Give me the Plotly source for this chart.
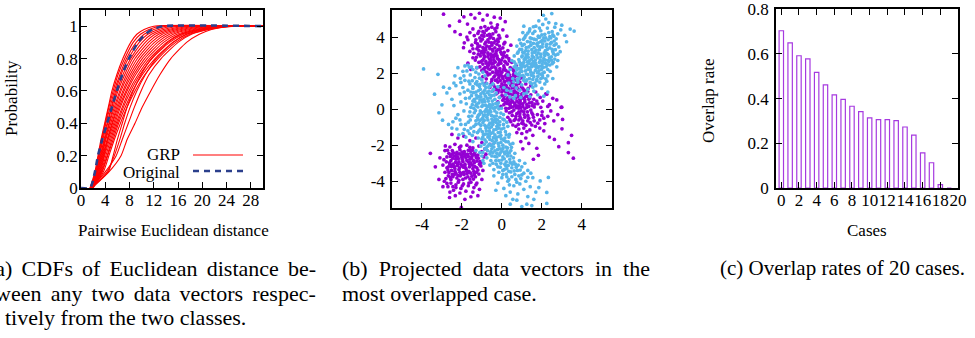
import plotly.graph_objects as go

W, H = 975, 338
SERIF = "Liberation Serif"

# ---------------- (a) CDFs of pairwise Euclidean distance ----------------
cdf_levels = [0.0, 0.1, 0.2, 0.3, 0.4, 0.5, 0.6, 0.7, 0.8, 0.9, 0.95, 0.98, 1.0]
# distance reached by each GRP projection at the probability levels above
grp_quantiles = [
    [1.5, 2.3, 2.8, 3.3, 3.9, 4.5, 5.1, 5.9, 6.9, 8.2, 9.2, 10.4, 12.0],
    [1.5, 2.4, 2.9, 3.4, 4.0, 4.6, 5.3, 6.1, 7.2, 8.6, 9.8, 11.2, 13.0],
    [1.6, 2.5, 3.0, 3.5, 4.1, 4.8, 5.5, 6.4, 7.5, 9.1, 10.4, 12.0, 14.0],
    [1.6, 2.5, 3.1, 3.6, 4.3, 5.0, 5.7, 6.6, 7.8, 9.6, 11.0, 12.8, 15.0],
    [1.5, 2.6, 3.2, 3.8, 4.4, 5.1, 5.9, 6.9, 8.2, 10.1, 11.6, 13.6, 16.0],
    [1.7, 2.7, 3.3, 3.9, 4.6, 5.3, 6.1, 7.2, 8.5, 10.6, 12.2, 14.4, 17.0],
    [1.6, 2.7, 3.4, 4.0, 4.7, 5.5, 6.4, 7.5, 8.9, 11.1, 12.8, 15.1, 18.0],
    [1.7, 2.8, 3.5, 4.1, 4.9, 5.7, 6.6, 7.8, 9.3, 11.6, 13.4, 15.8, 19.0],
    [1.8, 2.9, 3.6, 4.3, 5.1, 5.9, 6.9, 8.1, 9.7, 12.1, 14.0, 16.5, 20.0],
    [1.8, 3.0, 3.7, 4.4, 5.2, 6.1, 7.1, 8.4, 10.1, 12.6, 14.6, 17.2, 21.0],
    [1.7, 3.1, 3.8, 4.5, 5.4, 6.3, 7.4, 8.7, 10.5, 13.1, 15.2, 17.9, 22.0],
    [1.8, 3.2, 3.9, 4.7, 5.6, 6.5, 7.6, 9.0, 10.9, 13.6, 15.8, 18.6, 22.5],
    [1.9, 3.3, 4.1, 4.9, 5.8, 6.8, 7.9, 9.4, 11.3, 14.1, 16.3, 19.2, 23.0],
    [1.9, 3.4, 4.3, 5.1, 6.0, 7.0, 8.2, 9.7, 11.7, 14.6, 16.9, 19.8, 23.5],
    [2.0, 3.5, 4.4, 5.3, 6.2, 7.3, 8.5, 10.1, 12.2, 15.1, 17.4, 20.3, 24.0],
    [1.9, 3.7, 4.6, 5.5, 6.5, 7.6, 8.9, 10.5, 12.7, 15.6, 17.9, 20.8, 24.5],
    [1.6, 4.5, 5.3, 6.0, 6.8, 7.6, 8.6, 9.9, 11.6, 14.3, 16.5, 19.4, 23.0],
    [1.8, 4.3, 5.5, 6.4, 7.2, 8.1, 9.2, 10.6, 12.4, 15.2, 17.4, 20.2, 24.0],
    [1.7, 4.0, 5.8, 6.8, 7.8, 8.8, 9.9, 11.2, 13.2, 16.0, 18.2, 21.0, 25.0],
    [1.8, 4.6, 6.6, 7.6, 8.9, 10.1, 11.5, 13.0, 14.8, 17.4, 19.5, 21.5, 25.5],
]
original_quantiles = [1.5, 2.3, 2.8, 3.5, 4.3, 5.1, 5.9, 6.8, 7.9, 9.4, 10.6, 11.8, 13.5]
distance_max = 30
a_xticks = [0, 4, 8, 12, 16, 20, 24, 28]
a_yticks = [0, 0.2, 0.4, 0.6, 0.8, 1]

# ---------------- (b) projected data vectors ----------------
class1_upper = [
    (-2.92, 5.27), (-2.62, 4.62), (-2.12, 4.88), (-1.55, 5.25), (-1.35, 5.05), (-1.12, 5.32), (-0.95, 4.95),
    (-0.73, 5.22), (-0.55, 4.78), (-0.38, 5.1), (-0.08, 5.05), (0.17, 4.85), (-1.72, 4.72), (-0.22, 4.68), (-1.9, 5.12),
    (-2.08, 4.14), (-1.75, 4.0), (-2.35, 4.3), (-1.45, 4.45), (-1.2, 4.2), (-1.05, 4.52), (-0.9, 4.05), (-0.78, 4.38),
    (-0.62, 4.15), (-0.5, 4.55), (-0.42, 3.92), (-0.3, 4.3), (-0.15, 4.1), (0.05, 4.4), (0.25, 4.05), (-1.3, 3.85),
    (-1.1, 3.95), (-0.95, 4.3), (-0.7, 3.85), (-0.55, 4.02), (-0.35, 4.45), (-1.6, 4.25), (-0.85, 4.58), (-0.2, 3.88),
    (-1.0, 4.1),
    (-1.92, 3.41), (-1.88, 3.68), (-1.6, 3.2), (-1.5, 3.55), (-1.4, 3.1), (-1.32, 3.7), (-1.25, 3.35), (-1.18, 3.05),
    (-1.1, 3.5), (-1.05, 3.78), (-1.0, 3.2), (-0.95, 3.42), (-0.9, 3.0), (-0.85, 3.62), (-0.8, 3.28), (-0.75, 3.5),
    (-0.7, 3.12), (-0.65, 3.72), (-0.6, 3.35), (-0.55, 3.05), (-0.5, 3.55), (-0.45, 3.22), (-0.4, 3.68), (-0.35, 3.4),
    (-0.3, 3.1), (-0.25, 3.6), (-0.2, 3.3), (-0.12, 3.5), (-0.05, 3.15), (0.05, 3.4), (0.15, 3.7), (0.3, 3.25),
    (0.45, 3.55), (-1.7, 3.85), (-1.15, 3.25), (-0.88, 3.15), (-0.62, 3.45), (-0.42, 3.0), (-0.18, 3.75), (0.0, 3.05),
    (-1.7, 2.55), (-1.55, 2.2), (-1.45, 2.85), (-1.33, 2.72), (-1.25, 2.3), (-1.15, 2.6), (-1.08, 2.95), (-1.0, 2.15),
    (-0.95, 2.5), (-0.9, 2.8), (-0.85, 2.3), (-0.8, 2.65), (-0.75, 2.05), (-0.7, 2.9), (-0.66, 2.45), (-0.6, 2.2),
    (-0.55, 2.75), (-0.5, 2.5), (-0.46, 2.05), (-0.42, 2.88), (-0.38, 2.35), (-0.33, 2.62), (-0.28, 2.15), (-0.24, 2.95),
    (-0.2, 2.45), (-0.15, 2.75), (-0.1, 2.25), (-0.05, 2.55), (0.0, 2.05), (0.05, 2.85), (0.1, 2.4), (0.15, 2.65),
    (0.2, 2.15), (0.28, 2.5), (0.35, 2.8), (0.42, 2.3), (0.5, 2.6), (0.6, 2.1), (0.72, 2.4), (-0.98, 2.7),
    (-0.72, 2.38), (-0.52, 2.92), (-0.3, 2.28), (-0.12, 2.6), (0.08, 2.18), (-0.88, 2.12), (-0.62, 2.58), (-0.4, 2.72),
    (-0.18, 2.08), (0.22, 2.9),
    (-0.95, 1.8), (-0.8, 1.45), (-0.7, 1.9), (-0.6, 1.2), (-0.5, 1.65), (-0.42, 1.35), (-0.35, 1.85), (-0.28, 1.1),
    (-0.2, 1.5), (-0.15, 1.75), (-0.1, 1.25), (-0.05, 1.95), (0.0, 1.4), (0.05, 1.7), (0.1, 1.05), (0.12, 1.55),
    (0.18, 1.85), (0.22, 1.3), (0.28, 1.6), (0.32, 1.15), (0.38, 1.9), (0.42, 1.45), (0.48, 1.75), (0.52, 1.2),
    (0.58, 1.55), (0.62, 1.0), (0.68, 1.85), (0.72, 1.35), (0.78, 1.65), (0.85, 1.1), (0.9, 1.5), (0.98, 1.25),
    (1.05, 1.75), (1.12, 1.05), (1.2, 1.4), (1.32, 1.15), (1.45, 1.3), (-0.25, 1.62), (0.02, 1.12), (0.25, 1.95),
    (0.45, 1.05), (0.65, 1.6), (0.82, 1.88), (-0.45, 1.02), (0.15, 1.35), (0.35, 1.7), (0.55, 1.42), (0.75, 1.22),
    (-0.12, 1.88), (0.92, 1.72),
    (-0.28, 0.85), (-0.2, 0.4), (-0.12, 0.65), (-0.05, 0.15), (0.0, 0.95), (0.05, 0.5), (0.1, 0.25), (0.15, 0.75),
    (0.2, 0.05), (0.25, 0.55), (0.3, 0.9), (0.35, 0.3), (0.4, 0.65), (0.45, 0.1), (0.5, 0.8), (0.55, 0.4),
    (0.6, 0.6), (0.65, 0.2), (0.7, 0.95), (0.75, 0.45), (0.8, 0.7), (0.85, 0.05), (0.9, 0.55), (0.95, 0.3),
    (1.0, 0.85), (1.05, 0.15), (1.1, 0.6), (1.15, 0.4), (1.2, 0.9), (1.25, 0.1), (1.3, 0.7), (1.38, 0.35),
    (1.45, 0.8), (1.52, 0.2), (1.6, 0.55), (1.7, 0.95), (1.8, 0.3), (1.92, 0.65), (2.05, 0.45), (2.2, 0.85),
    (2.25, 0.83), (2.38, 0.25), (2.55, 0.6), (2.75, 0.51), (2.97, 0.1), (0.32, 0.48), (0.62, 0.82), (0.88, 0.18),
    (1.12, 0.95), (0.42, 0.22), (0.72, 0.08), (1.35, 0.55), (0.18, 0.38), (0.95, 0.72), (1.62, 0.12),
    (0.22, -0.1), (0.3, -0.45), (0.38, -0.2), (0.45, -0.7), (0.52, -0.35), (0.6, -0.05), (0.68, -0.55), (0.75, -0.25),
    (0.82, -0.85), (0.9, -0.4), (0.98, -0.1), (1.05, -0.65), (1.12, -0.3), (1.2, -0.9), (1.28, -0.15), (1.35, -0.5),
    (1.42, -0.75), (1.5, -0.2), (1.58, -0.45), (1.68, -0.95), (1.78, -0.3), (1.9, -0.6), (2.02, -0.15), (2.15, -0.8),
    (2.3, -0.4), (2.45, -0.1), (2.6, -0.65), (2.8, -0.3), (3.0, 0.11), (3.04, -0.57), (0.55, -0.88), (0.85, -0.15),
    (1.15, -0.45), (1.45, -0.05), (0.4, -0.6), (0.7, -0.95), (1.0, -0.78), (1.62, -0.65), (2.1, -0.5), (0.95, -0.52),
    (0.85, -1.1), (1.0, -1.35), (1.1, -1.05), (1.25, -1.25), (1.4, -1.15), (1.55, -1.45), (1.2, -1.6), (0.95, -1.8),
    (1.75, -2.17), (1.83, -2.56), (1.58, -2.78), (2.38, -1.55), (2.63, -1.68), (2.85, -2.08), (3.01, -1.09),
    (3.33, -1.86), (3.49, -1.45), (3.33, -2.41), (3.58, -2.72), (2.1, -1.2), (1.9, -1.05), (0.75, -1.3),
    (1.35, -1.9), (1.05, -2.2),
    (-1.15, 4.32), (-0.88, 4.22), (-0.68, 4.48), (-0.45, 4.18), (-0.25, 4.52), (-1.38, 4.08), (-0.6, 3.95),
    (-0.32, 3.78), (-0.98, 3.88), (-1.22, 3.62), (-0.8, 3.72), (-0.52, 3.68), (-0.1, 3.95), (0.1, 3.62), (-0.72, 4.1),
    (-1.45, 3.35), (-1.2, 3.45), (-1.02, 3.12), (-0.82, 3.38), (-0.68, 3.02), (-0.48, 3.32), (-0.28, 3.22),
    (-0.08, 3.32), (0.12, 3.15), (0.25, 2.95), (-1.28, 2.88), (-1.05, 2.62), (-0.85, 2.92), (-0.62, 2.78),
    (-0.42, 2.55), (-0.22, 2.82), (-0.02, 2.72), (0.2, 2.58), (0.38, 2.68), (-0.78, 2.55), (-0.55, 2.62),
    (-0.35, 2.98), (-0.15, 2.5), (0.08, 2.98), (-0.92, 3.25),
    (-1.1, 2.35), (-0.92, 2.22), (-0.7, 2.28), (-0.5, 2.32), (-0.3, 2.02), (-0.1, 2.12), (0.12, 2.28), (0.32, 2.05),
    (0.55, 2.22), (-0.6, 1.95), (-0.4, 1.78), (-0.2, 1.92), (0.02, 1.82), (0.22, 1.75), (0.42, 1.6), (0.62, 1.78),
    (-0.78, 1.68), (-0.52, 1.52), (-0.32, 1.6), (-0.08, 1.58), (0.15, 1.52), (0.35, 1.55), (0.58, 1.92), (0.8, 1.55),
    (-0.55, 1.38), (-0.35, 1.22), (-0.15, 1.05), (0.05, 1.25), (0.25, 1.15), (0.45, 1.32), (0.65, 1.18), (0.85, 1.42),
    (1.05, 1.15), (-0.2, 0.92), (0.0, 0.75), (0.2, 0.95), (0.4, 0.82), (0.6, 0.98), (0.8, 0.88), (1.0, 0.62),
    (1.2, 0.72), (0.3, 0.62), (0.5, 0.52), (0.7, 0.62), (0.92, 0.45), (1.15, 0.52), (1.4, 0.62), (0.1, 0.58),
    (1.3, 0.98),
    (0.25, 0.32), (0.45, 0.38), (0.65, 0.32), (0.85, 0.35), (1.05, 0.3), (1.25, 0.25), (1.5, 0.38), (1.75, 0.45),
    (0.35, 0.05), (0.55, 0.12), (0.75, 0.18), (0.95, 0.08), (1.15, 0.02), (1.35, 0.15), (1.65, 0.28), (0.5, -0.15),
    (0.7, -0.4), (0.9, -0.25), (1.1, -0.15), (1.3, -0.35), (1.55, -0.3), (0.62, -0.62), (0.85, -0.6), (1.08, -0.82),
    (1.3, -0.65), (1.5, -0.88), (1.8, -0.78), (2.0, -0.35), (1.95, 0.1), (2.3, 0.15),
]
class1_lower = [
    (-2.5, -1.4), (-2.2, -1.6), (-1.9, -1.5), (-1.6, -1.75), (-1.3, -1.6), (-1.0, -1.85), (-2.35, -1.95),
    (-2.05, -2.05), (-1.75, -2.0), (-1.45, -2.15), (-1.15, -2.05), (-0.85, -2.2), (-2.6, -2.1), (-0.6, -1.95),
    (-2.85, -2.3), (-2.75, -2.65), (-2.65, -2.45), (-2.55, -2.85), (-2.48, -2.3), (-2.4, -2.6), (-2.32, -2.95),
    (-2.25, -2.4), (-2.18, -2.75), (-2.1, -2.25), (-2.02, -2.55), (-1.95, -2.9), (-1.88, -2.35), (-1.8, -2.7),
    (-1.72, -2.5), (-1.65, -2.95), (-1.58, -2.3), (-1.5, -2.62), (-1.42, -2.85), (-1.35, -2.4), (-1.28, -2.7),
    (-1.2, -2.55), (-1.1, -2.9), (-1.0, -2.35), (-0.9, -2.65), (-0.8, -2.5), (-2.62, -2.98), (-2.28, -2.52),
    (-1.98, -2.78), (-1.68, -2.28), (-1.38, -2.98), (-2.45, -2.72), (-2.15, -2.92), (-1.85, -2.6), (-1.55, -2.45),
    (-1.25, -2.88),
    (-2.95, -3.1), (-2.85, -3.5), (-2.75, -3.25), (-2.68, -3.7), (-2.6, -3.05), (-2.52, -3.4), (-2.45, -3.75),
    (-2.38, -3.2), (-2.3, -3.55), (-2.22, -3.02), (-2.15, -3.35), (-2.08, -3.7), (-2.0, -3.15), (-1.92, -3.5),
    (-1.85, -3.05), (-1.78, -3.4), (-1.7, -3.75), (-1.62, -3.2), (-1.55, -3.55), (-1.48, -3.1), (-1.4, -3.45),
    (-1.32, -3.75), (-1.25, -3.25), (-1.15, -3.6), (-1.05, -3.15), (-0.95, -3.4), (-2.55, -3.9), (-2.25, -3.82),
    (-1.95, -3.9), (-1.6, -3.88), (-2.4, -3.15), (-2.1, -3.5), (-1.8, -3.28), (-1.5, -3.72), (-1.2, -3.38),
    (-2.7, -3.38), (-1.9, -3.62), (-2.35, -3.45),
    (-2.5, -2.5), (-2.2, -2.65), (-1.9, -2.45), (-1.6, -2.78), (-1.3, -2.58), (-2.35, -3.3), (-2.05, -3.05),
    (-1.75, -3.58), (-1.45, -3.3), (-2.65, -3.52), (-2.2, -3.68), (-1.85, -3.15), (-1.55, -2.98), (-2.0, -2.38),
    (-2.3, -2.78), (-1.65, -3.45), (-1.38, -3.62), (-2.48, -3.62), (-1.12, -3.05), (-2.12, -3.25),
    (-2.88, -4.0), (-2.7, -4.3), (-2.55, -4.1), (-2.42, -4.5), (-2.3, -4.2), (-2.18, -4.05), (-2.05, -4.4),
    (-1.92, -4.15), (-1.8, -4.55), (-1.68, -4.25), (-1.55, -4.05), (-1.4, -4.35), (-1.25, -4.1), (-1.12, -4.45),
    (-2.6, -4.6), (-2.1, -4.65), (-1.45, -4.6), (-2.95, -4.3), (-2.8, -3.85), (-1.0, -3.9),
    (-2.62, -4.9), (-2.33, -4.8), (-1.55, -4.86), (-2.03, -5.45), (-1.2, -4.8), (-1.85, -5.0),
    (-3.58, -2.45), (-3.33, -3.2), (-2.83, -2.04), (-3.1, -2.7), (-3.15, -3.9),
    (-2.42, -2.42), (-2.12, -2.48), (-1.82, -2.52), (-1.52, -2.72), (-2.58, -2.62), (-2.28, -2.68), (-1.98, -2.62),
    (-1.68, -2.62), (-1.42, -2.52), (-2.52, -3.18), (-2.22, -3.12), (-1.92, -3.22), (-1.62, -3.05), (-1.35, -3.18),
    (-2.68, -3.2), (-2.38, -3.62), (-2.05, -3.58), (-1.72, -3.52), (-1.42, -3.88), (-2.58, -3.78), (-2.15, -3.95),
    (-1.82, -3.82), (-1.28, -3.5), (-2.78, -2.92), (-2.45, -3.05), (-2.0, -2.68), (-1.75, -2.85), (-1.18, -2.72),
    (-2.3, -4.35), (-1.98, -4.25), (-1.65, -4.1), (-2.75, -4.12), (-1.0, -2.95), (-1.48, -2.28), (-2.72, -2.28),
    (-2.12, -2.12), (-1.6, -2.12), (-2.9, -2.8), (-1.3, -4.2), (-2.45, -4.3),
]
class2_upper = [
    (2.5, 5.3), (2.08, 5.21), (3.0, 4.66), (3.42, 4.44), (3.62, 4.33), (2.2, 5.0), (1.85, 4.9), (2.7, 4.75),
    (1.1, 4.6), (3.15, 4.1),
    (1.2, 4.1), (1.4, 4.45), (1.55, 4.2), (1.7, 4.6), (1.82, 4.05), (1.95, 4.35), (2.05, 4.7), (2.15, 4.15),
    (2.28, 4.5), (2.4, 4.02), (2.52, 4.3), (2.65, 4.55), (2.8, 4.18), (1.58, 4.57), (1.38, 4.33), (2.95, 4.4),
    (1.05, 4.25), (2.35, 4.8), (1.88, 4.5), (2.6, 4.05),
    (0.75, 3.5), (0.88, 3.85), (1.0, 3.3), (1.08, 3.88), (1.12, 3.6), (1.2, 3.25), (1.28, 3.75), (1.35, 3.45),
    (1.42, 3.95), (1.5, 3.3), (1.58, 3.65), (1.65, 3.2), (1.72, 3.85), (1.8, 3.5), (1.88, 3.3), (1.95, 3.75),
    (2.02, 3.45), (2.1, 3.95), (2.18, 3.25), (2.25, 3.6), (2.32, 3.85), (2.4, 3.4), (2.48, 3.7), (2.55, 3.2),
    (2.62, 3.55), (2.72, 3.9), (2.85, 3.45), (3.24, 3.74), (0.95, 3.65), (1.15, 3.98), (1.45, 3.55), (1.62, 3.42),
    (1.85, 3.98), (2.05, 3.62), (2.28, 3.32), (2.45, 3.95), (1.32, 3.22), (1.75, 3.62), (2.15, 3.78), (2.68, 3.3),
    (0.5, 2.7), (0.62, 2.95), (0.7, 2.5), (0.78, 3.1), (0.85, 2.75), (0.92, 2.45), (1.0, 2.9), (1.05, 3.15),
    (1.1, 2.6), (1.18, 2.85), (1.25, 2.42), (1.3, 3.05), (1.38, 2.7), (1.45, 2.5), (1.52, 2.95), (1.58, 2.65),
    (1.65, 3.15), (1.72, 2.45), (1.8, 2.85), (1.88, 2.6), (1.95, 3.05), (2.02, 2.5), (2.1, 2.8), (2.18, 2.55),
    (2.25, 3.1), (2.32, 2.7), (2.4, 2.45), (2.48, 2.9), (2.58, 2.6), (2.68, 3.0), (2.8, 2.7), (2.92, 3.19),
    (0.98, 2.52), (1.22, 2.98), (1.48, 2.78), (1.68, 2.55), (1.92, 2.72), (2.15, 2.98), (2.38, 2.85), (1.35, 2.55),
    (1.75, 3.0), (2.05, 2.65), (1.12, 2.75), (1.6, 2.88), (2.52, 2.52),
    (0.3, 1.9), (0.42, 2.2), (0.55, 1.7), (0.62, 2.35), (0.7, 2.0), (0.78, 1.65), (0.85, 2.25), (0.92, 1.85),
    (1.0, 2.1), (1.08, 1.62), (1.15, 2.35), (1.22, 1.95), (1.3, 2.2), (1.38, 1.7), (1.45, 2.05), (1.52, 2.38),
    (1.6, 1.8), (1.68, 2.15), (1.75, 1.65), (1.82, 2.3), (1.9, 1.95), (1.98, 2.2), (2.05, 1.75), (2.12, 2.05),
    (2.22, 2.35), (2.3, 1.85), (2.42, 2.1), (2.55, 1.7), (0.88, 2.02), (1.12, 1.78), (1.35, 2.3), (1.58, 2.0),
    (1.8, 1.82), (2.0, 2.38), (1.25, 1.62), (1.48, 1.88), (1.72, 2.32), (0.98, 2.32), (2.2, 1.68), (0.75, 2.18),
    (0.1, 1.2), (0.2, 0.8), (0.35, 1.45), (0.45, 1.0), (0.55, 1.3), (0.68, 0.75), (0.8, 1.5), (0.9, 1.05),
    (1.0, 1.35), (1.1, 0.85), (1.2, 1.55), (1.3, 1.1), (1.4, 0.7), (1.5, 1.4), (1.6, 1.0), (1.7, 1.3),
    (1.8, 0.8), (1.9, 1.5), (2.0, 1.15), (2.15, 1.4), (2.3, 0.95), (0.25, 1.05), (0.6, 0.6), (1.25, 0.9),
    (1.55, 1.22), (0.95, 0.65), (2.1, 0.72), (0.4, 0.68), (1.75, 1.58), (0.72, 1.18),
    (1.02, 3.52), (1.22, 3.42), (1.42, 3.72), (1.62, 3.88), (1.82, 3.68), (2.02, 3.82), (2.22, 3.48), (2.42, 3.62),
    (2.62, 3.78), (1.12, 3.12), (1.32, 2.88), (1.52, 3.12), (1.72, 3.28), (1.92, 3.45), (2.12, 3.12), (2.32, 3.02),
    (2.52, 3.32), (2.72, 3.62), (0.88, 2.62), (1.08, 2.42), (1.28, 2.62), (1.48, 2.35), (1.68, 2.72), (1.88, 2.38),
    (2.08, 2.32), (2.28, 2.48), (2.48, 2.72), (2.65, 2.78), (0.72, 2.32), (0.95, 2.18), (1.18, 2.12), (1.42, 2.18),
    (1.62, 2.42), (1.85, 2.12), (2.05, 2.0), (2.3, 2.2), (0.8, 1.92), (1.05, 1.88), (1.3, 1.92), (1.55, 1.65),
    (1.78, 2.02), (2.02, 1.88), (0.6, 1.52), (0.85, 1.7), (1.15, 1.55), (1.42, 1.48), (1.65, 1.45), (1.95, 1.7),
    (2.25, 1.55), (1.3, 4.22), (1.65, 4.32), (2.0, 4.12), (2.35, 4.25), (1.9, 4.0), (2.2, 3.95), (1.5, 3.92),
    (2.55, 4.12), (0.82, 3.18), (0.62, 2.62), (2.8, 3.05), (2.75, 2.35), (1.2, 2.78), (1.95, 2.9), (2.35, 2.65),
    (1.55, 2.55), (1.02, 2.95), (1.82, 3.12), (2.18, 2.72), (2.58, 3.08), (0.9, 3.32),
]
class2_center = [
    (-3.92, 2.23), (-3.2, 1.93), (-2.92, 1.22), (-3.37, 0.83), (-3.0, 0.24), (-2.62, 1.16), (-2.97, -0.61),
    (-2.67, -0.85), (-2.5, 0.55), (-2.75, 0.9), (-3.15, -0.2), (-2.4, 1.45),
    (-1.7, 2.45), (-2.08, 1.71), (-1.95, 2.1), (-1.58, 1.9), (-1.25, 1.53), (-1.45, 2.2), (-1.35, 1.75),
    (-1.85, 1.6), (-2.2, 2.3), (-1.15, 1.95), (-1.0, 1.62), (-1.65, 1.55), (-0.85, 1.85), (-1.52, 2.35), (-2.35, 1.85),
    (-2.3, 1.3), (-2.1, 0.85), (-1.95, 1.2), (-1.82, 0.6), (-1.7, 1.05), (-1.6, 1.4), (-1.52, 0.75), (-1.45, 1.15),
    (-1.38, 0.55), (-1.3, 0.95), (-1.22, 1.35), (-1.15, 0.7), (-1.08, 1.1), (-1.0, 0.5), (-0.95, 1.45), (-0.88, 0.85),
    (-0.8, 1.2), (-0.72, 0.6), (-0.65, 1.0), (-0.58, 1.3), (-0.5, 0.75), (-0.42, 1.1), (-0.35, 0.55), (-0.28, 0.9),
    (-0.2, 1.25), (-0.12, 0.65), (-1.25, 0.62), (-1.05, 0.85), (-0.85, 1.05), (-0.62, 0.8), (-1.42, 0.92),
    (-0.75, 1.42), (-1.88, 0.95), (-0.45, 1.4), (-1.12, 1.25),
    (-2.4, 0.2), (-2.2, -0.3), (-2.05, 0.4), (-1.9, -0.1), (-1.78, 0.3), (-1.65, -0.4), (-1.55, 0.1), (-1.45, 0.45),
    (-1.38, -0.2), (-1.3, 0.2), (-1.22, -0.45), (-1.15, 0.35), (-1.08, -0.1), (-1.0, 0.15), (-0.92, -0.35),
    (-0.85, 0.42), (-0.78, 0.0), (-0.7, -0.3), (-0.62, 0.25), (-0.55, -0.15), (-0.48, 0.45), (-0.4, -0.4),
    (-0.32, 0.1), (-0.25, -0.2), (-0.18, 0.35), (-0.1, -0.45), (-0.02, 0.05), (0.08, -0.3), (-1.4, 0.05),
    (-1.12, -0.28), (-0.98, 0.4), (-0.75, -0.45), (-0.58, 0.08), (-0.35, -0.1), (-0.82, 0.22), (-0.65, -0.22),
    (-1.25, 0.28), (-0.45, 0.25), (-1.6, -0.15), (-0.2, 0.18),
    (-2.45, -0.7), (-2.25, -1.1), (-2.1, -0.6), (-1.95, -1.35), (-1.82, -0.85), (-1.7, -1.2), (-1.58, -0.6),
    (-1.48, -1.45), (-1.4, -0.95), (-1.3, -0.65), (-1.22, -1.3), (-1.15, -0.8), (-1.08, -1.1), (-1.0, -0.55),
    (-0.92, -1.4), (-0.85, -0.9), (-0.78, -1.2), (-0.7, -0.6), (-0.62, -1.05), (-0.55, -1.35), (-0.48, -0.75),
    (-0.4, -1.15), (-0.32, -0.55), (-0.25, -0.95), (-0.18, -1.3), (-0.1, -0.7), (-0.02, -1.1), (0.08, -0.85),
    (0.18, -1.25), (0.3, -0.95), (0.38, -1.4), (-1.05, -0.9), (-0.88, -0.62), (-0.7, -1.38), (-0.52, -0.98),
    (-0.35, -1.42), (-0.2, -0.82), (-0.05, -1.45), (0.12, -0.6), (-0.6, -0.78), (-0.42, -0.62), (-0.75, -0.98),
    (-1.2, -0.58), (-0.15, -1.05), (0.25, -0.72),
    (-1.45, -1.8), (-1.3, -2.3), (-1.18, -1.6), (-1.05, -2.05), (-0.95, -2.4), (-0.85, -1.7), (-0.78, -2.15),
    (-0.7, -1.55), (-0.62, -1.95), (-0.55, -2.35), (-0.48, -1.75), (-0.4, -2.1), (-0.32, -1.6), (-0.25, -2.45),
    (-0.18, -1.9), (-0.1, -2.2), (-0.02, -1.65), (0.05, -2.0), (0.12, -2.38), (0.2, -1.8), (0.28, -2.15),
    (0.35, -1.55), (0.45, -2.3), (0.55, -1.9), (0.65, -2.45), (-0.6, -2.48), (-0.35, -1.85), (-0.12, -1.52),
    (0.1, -1.72), (0.3, -2.45), (-0.88, -1.95), (-0.5, -2.2), (-0.22, -2.25), (0.0, -2.32), (-0.72, -2.3),
    (-0.42, -1.58), (-1.0, -1.65), (0.42, -1.95), (-0.28, -1.72), (0.2, -2.1),
    (-1.0, -2.6), (-0.9, -3.0), (-0.85, -2.2), (-1.1, -2.4), (-0.95, -2.85),
    (-0.75, -2.7), (-0.6, -3.1), (-0.5, -2.6), (-0.4, -3.35), (-0.3, -2.85), (-0.2, -3.2), (-0.12, -2.55),
    (-0.05, -3.0), (0.05, -3.4), (0.12, -2.75), (0.2, -3.15), (0.28, -2.6), (0.35, -3.45), (0.42, -2.95),
    (0.5, -3.25), (0.58, -2.7), (0.68, -3.05), (0.78, -3.4), (0.88, -2.85), (1.0, -3.2), (1.15, -3.0), (1.3, -3.4),
    (-0.25, -2.65), (0.0, -2.82), (0.25, -3.3), (0.45, -2.6), (0.62, -3.42), (-0.45, -3.0), (0.15, -3.05),
    (0.82, -3.1),
    (-0.4, -3.7), (-0.2, -4.1), (0.0, -3.8), (0.1, -4.4), (0.22, -3.6), (0.3, -4.0), (0.42, -4.6), (0.5, -3.75),
    (0.6, -4.25), (0.7, -3.9), (0.8, -4.7), (0.9, -4.15), (1.0, -3.65), (1.1, -4.45), (1.2, -4.0), (1.3, -4.85),
    (1.42, -4.3), (1.55, -3.8), (1.7, -4.6), (1.92, -3.98), (2.33, -3.79), (2.25, -4.62), (1.25, -5.27),
    (2.25, -5.23), (0.42, -5.27), (0.75, -5.05), (1.0, -5.4), (1.6, -5.0), (0.2, -4.8), (-0.3, -4.5),
    (1.85, -4.35), (0.55, -5.0), (0.95, -3.85), (0.38, -4.2), (1.5, -5.35),
    (-1.32, 1.42), (-1.1, 1.38), (-0.88, 1.32), (-0.65, 1.22), (-1.45, 1.25), (-1.18, 1.02), (-0.95, 0.95),
    (-0.72, 0.92), (-0.5, 0.98), (-1.55, 0.95), (-1.28, 0.78), (-1.05, 0.68), (-0.82, 0.72), (-0.58, 0.62),
    (-0.38, 0.78), (-1.62, 0.62), (-1.35, 0.42), (-1.1, 0.52), (-0.9, 0.55), (-0.68, 0.45),
    (-1.48, 0.25), (-1.2, 0.12), (-0.95, 0.22), (-0.72, 0.15), (-0.5, 0.22), (-0.3, 0.32), (-1.32, -0.08),
    (-1.02, -0.18), (-0.85, -0.12), (-0.6, -0.05), (-0.42, 0.05), (-0.15, 0.02), (-1.18, -0.35), (-0.95, -0.48),
    (-0.72, -0.12), (-0.52, -0.35), (-0.28, -0.38), (-0.05, -0.22), (-1.5, -0.38), (-0.85, -0.32),
    (-1.3, -0.85), (-1.1, -0.62), (-0.95, -0.75), (-0.8, -1.05), (-0.65, -0.88), (-0.45, -0.85), (-0.3, -0.72),
    (-0.12, -0.88), (0.05, -0.55), (-1.15, -1.2), (-0.98, -1.25), (-0.82, -1.38), (-0.62, -1.22), (-0.45, -1.3),
    (-0.28, -1.12), (-0.08, -1.28), (0.1, -1.05), (0.22, -1.42), (-0.5, -0.55), (-0.22, -0.6),
    (-0.95, -1.55), (-0.78, -1.82), (-0.6, -1.68), (-0.42, -1.92), (-0.25, -1.55), (-0.05, -1.85), (0.15, -1.6),
    (0.32, -1.82), (-0.7, -2.05), (-0.52, -2.02), (-0.35, -2.32), (-0.15, -2.05), (0.05, -2.18), (0.25, -2.32),
    (0.48, -2.12), (-0.45, -2.42), (-0.08, -2.42), (0.15, -2.48), (0.38, -2.42), (-0.62, -1.5),
    (-0.55, -2.85), (-0.35, -2.62), (-0.15, -2.85), (0.05, -2.65), (0.22, -2.92), (0.4, -2.78), (0.6, -2.92),
    (-0.28, -3.05), (-0.08, -3.22), (0.12, -3.35), (0.32, -3.12), (0.52, -3.05), (0.72, -3.22), (0.92, -3.38),
    (-0.15, -3.5), (0.05, -3.62), (0.25, -3.75), (0.45, -3.48), (0.65, -3.62), (0.85, -3.7), (1.1, -3.55),
    (1.3, -3.78), (0.35, -3.9), (0.75, -4.05), (1.45, -3.55),
    (-1.75, 2.12), (-1.9, 1.85), (-1.3, 2.05), (-1.62, 2.32), (-1.25, 2.3), (-2.05, 1.48), (-1.48, 1.58),
    (-1.12, 1.72), (-0.95, 2.05), (-1.85, 2.4),
    (-2.3, -0.5), (-2.05, -0.85), (-1.88, -1.12), (-1.68, -0.72), (-1.55, -1.05), (-1.62, -1.35), (-2.15, -1.42),
    (-1.8, -1.55), (-1.4, -1.25), (-2.5, -1.05),
]
b_ticks = [-4, -2, 0, 2, 4]
b_ticklabels = ["-4", "-2", "0", "2", "4"]

# ---------------- (c) overlap rates ----------------
cases = list(range(20))
overlap_rates = [0.704, 0.65, 0.592, 0.578, 0.518, 0.462, 0.417, 0.397, 0.366, 0.342,
                 0.314, 0.306, 0.306, 0.302, 0.273, 0.237, 0.157, 0.113, 0.015, 0.0]
c_xticks = list(range(0, 21, 2))
c_yticks = [0, 0.2, 0.4, 0.6, 0.8]

# ---------------- colours ----------------
GRP_RED = "#ff0000"
ORIG_BLUE = "#2b3f8c"
VIOLET = "#9400d3"
SKY = "#56b4e9"
BAR_EDGE = "#a63ae0"


def px_x(x):
    return x / W


def px_y(y):
    return 1 - y / H


fig = go.Figure()

for q in grp_quantiles:
    fig.add_trace(go.Scatter(
        x=q + [distance_max], y=cdf_levels + [1.0], mode="lines",
        line=dict(color=GRP_RED, width=1.1, shape="spline", smoothing=0.6),
        xaxis="x", yaxis="y", showlegend=False, hoverinfo="skip"))

fig.add_trace(go.Scatter(
    x=[0.0] + original_quantiles + [distance_max], y=[0.0] + cdf_levels + [1.0], mode="lines",
    line=dict(color=ORIG_BLUE, width=2.6, dash="6px,5px", shape="spline", smoothing=0.6),
    xaxis="x", yaxis="y", showlegend=False))

for pts, col in ((class1_upper + class1_lower, VIOLET), (class2_upper + class2_center, SKY)):
    fig.add_trace(go.Scatter(
        x=[p[0] for p in pts], y=[p[1] for p in pts], mode="markers",
        marker=dict(color=col, size=3.7, line=dict(width=0)),
        xaxis="x2", yaxis="y2", showlegend=False))

fig.add_trace(go.Bar(
    x=cases, y=overlap_rates, width=0.5,
    marker=dict(color="rgba(0,0,0,0)", line=dict(color=BAR_EDGE, width=1.2)),
    xaxis="x3", yaxis="y3", showlegend=False))

tickfont = dict(family=SERIF, size=17, color="black")
frame = dict(showline=True, linecolor="black", linewidth=1.5, mirror="ticks",
             ticks="inside", ticklen=6, tickwidth=1.2, tickcolor="black",
             showgrid=False, zeroline=False, tickfont=tickfont, automargin=False,
             tickangle=0)

fig.update_layout(
    width=W, height=H, margin=dict(l=0, r=0, t=0, b=0),
    paper_bgcolor="white", plot_bgcolor="white",
    xaxis=dict(frame, domain=[px_x(81), px_x(263)], range=[0, distance_max],
               tickvals=a_xticks, anchor="y", ticklabelstandoff=-4),
    yaxis=dict(frame, domain=[px_y(188), px_y(10)], range=[0, 1.1],
               tickvals=a_yticks, anchor="x", ticklabelstandoff=-2),
    xaxis2=dict(frame, domain=[px_x(392), px_x(611.7)], range=[-5.5, 5.5],
                tickvals=b_ticks, ticktext=b_ticklabels, anchor="y2"),
    yaxis2=dict(frame, domain=[px_y(208.3), px_y(10)], range=[-5.5, 5.5],
                tickvals=b_ticks, ticktext=b_ticklabels, anchor="x2", ticklabelstandoff=2),
    xaxis3=dict(frame, domain=[px_x(776), px_x(958)], range=[-0.6, 20],
                tickvals=c_xticks, anchor="y3", ticklabelstandoff=-4),
    yaxis3=dict(frame, domain=[px_y(188), px_y(9.3)], range=[0, 0.8],
                tickvals=c_yticks, anchor="x3", ticklabelstandoff=2),
)


def label(text, x, y, size=17, xanchor="center", angle=0):
    return dict(text=text, x=px_x(x), y=px_y(y), xref="paper", yref="paper",
                showarrow=False, xanchor=xanchor, yanchor="middle", textangle=angle,
                font=dict(family=SERIF, size=size, color="black"))


NB = "\u00a0"
SIX = "\u2006"
CAP = 22
annotations = [
    label("Probability", 12, 98, angle=-90),
    label("Pairwise Euclidean distance", 173, 230),
    label("GRP", 182, 154, xanchor="right"),
    label("Original", 182, 172, xanchor="right"),
    label("Overlap rate", 708, 101, angle=-90),
    label("Cases", 867, 230),
    label(("(a) CDFs of Euclidean distance be-").replace(" ", " " + SIX), 318, 268, CAP, "right"),
    label(("tween any two data vectors respec-").replace(" ", " " + SIX), 318, 293, CAP, "right"),
    label("tively from the two classes.", 248, 317, CAP, "right"),
    label(("(b) Projected data vectors in the").replace(" ", " " + NB), 340, 268, CAP, "left"),
    label("most overlapped case.", 340, 293, CAP, "left"),
    label("(c) Overlap rates of 20 cases.", 718, 268, 21, "left"),
]
fig.update_layout(annotations=annotations)

fig.add_shape(type="line", xref="paper", yref="paper", x0=px_x(193), x1=px_x(243),
              y0=px_y(155), y1=px_y(155), line=dict(color=GRP_RED, width=1.2))
fig.add_shape(type="line", xref="paper", yref="paper", x0=px_x(193), x1=px_x(243),
              y0=px_y(171), y1=px_y(171), line=dict(color=ORIG_BLUE, width=2.6, dash="6px,5px"))

fig.write_html("out.html")
